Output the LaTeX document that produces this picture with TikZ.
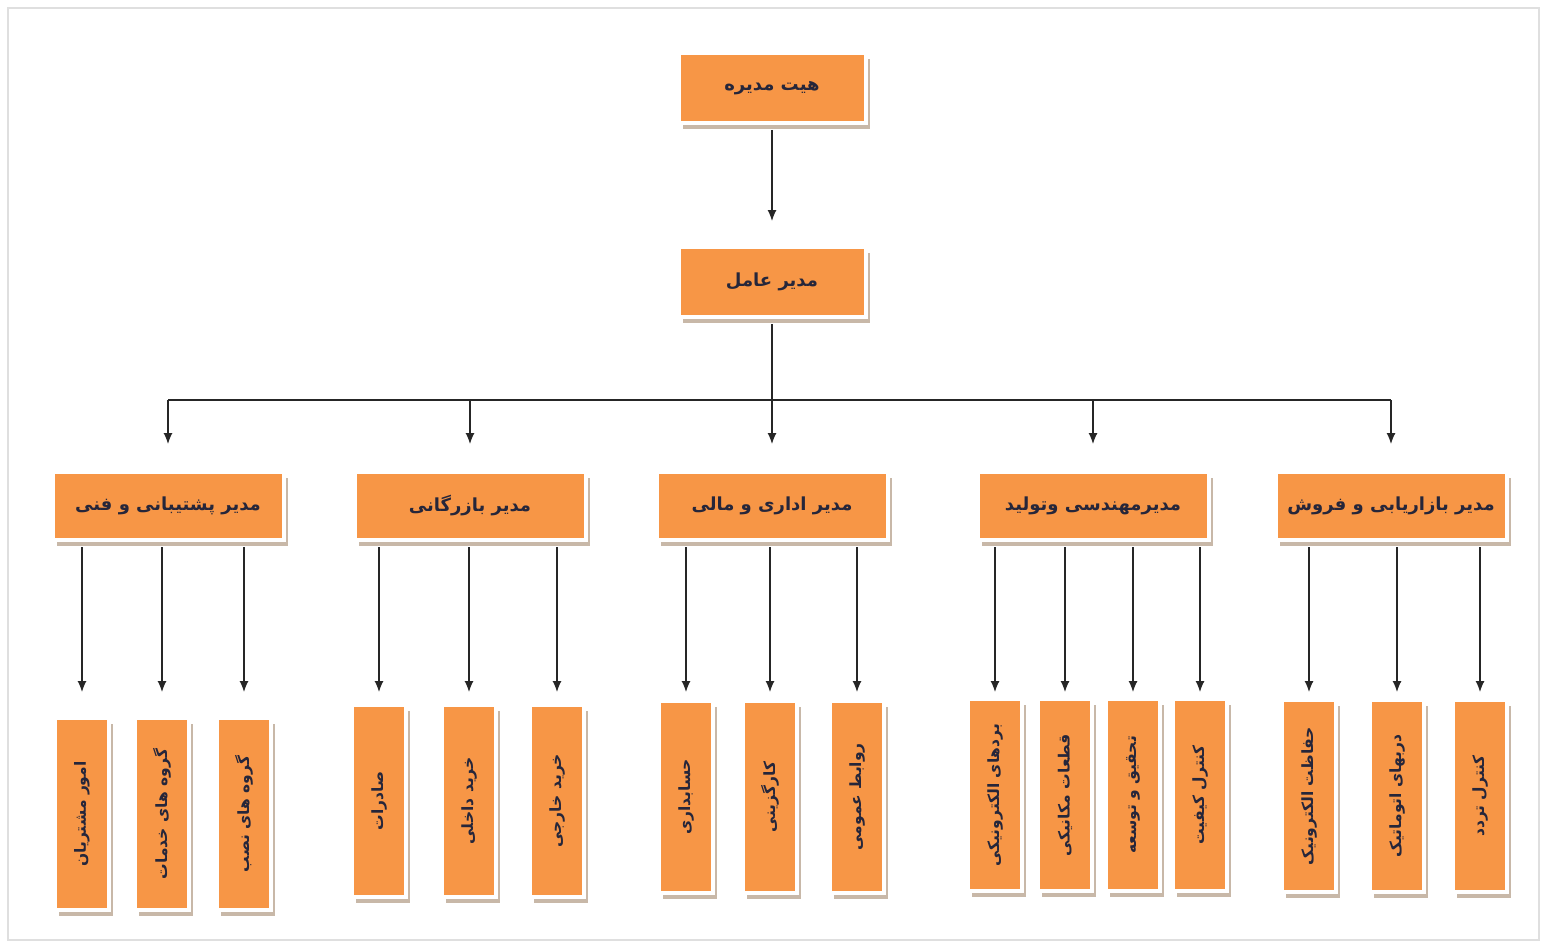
\documentclass[tikz,border=0pt]{standalone}
\usepackage{fontspec}
\usepackage{graphicx}
\usetikzlibrary{shadows,arrows.meta}
\TeXXeTstate=1
\newfontfamily\arabicfont[Script=Arabic]{DejaVu Sans}
\definecolor{boxorange}{RGB}{247,150,70}
\definecolor{shadowtan}{RGB}{200,184,168}
\definecolor{inktext}{RGB}{38,38,58}
\newcommand{\fa}[1]{\arabicfont\bfseries\beginR #1\endR}
\newcommand{\vfa}[1]{\rotatebox{90}{\fontsize{15.5}{18}\selectfont\fa{#1}}}

\tikzset{
  box/.style={fill=boxorange, draw=white, line width=4pt, text=inktext, inner sep=0pt,
    drop shadow={shadow xshift=4pt, shadow yshift=-6pt, fill=shadowtan, opacity=1}},
  head/.style={box, minimum width=187pt, minimum height=70pt, font=\fontsize{18}{21}\selectfont},
  mgr/.style={box, minimum width=231pt, minimum height=68pt, font=\fontsize{18}{21}\selectfont},
  leaf/.style={box, minimum width=54pt, minimum height=192pt},
  wire/.style={line width=1.2pt, draw=black!85},
  arr/.style={wire, -{Latex[length=11pt,width=9pt]}}
}

\begin{document}
\begin{tikzpicture}[x=1pt, y=-1pt]
  \useasboundingbox (0,0) rectangle (1545,947);
  \draw[gray!25, line width=1.2pt] (8,8) rectangle (1539,940);

  % board and ceo
  \node[head] (board) at (772,88) {\fa{هیت مدیره}};
  \node[head] (ceo) at (772,282) {\fa{مدیر عامل}};
  \draw[arr, shorten <=5pt, shorten >=24pt] (board.south) -- (ceo.north);

  % managers
  \node[mgr] (sup) at (168,506) {\fa{مدیر پشتیبانی و فنی}};
  \node[mgr] (com) at (470,506) {\fa{مدیر بازرگانی}};
  \node[mgr] (adm) at (772,506) {\fa{مدیر اداری و مالی}};
  \node[mgr] (eng) at (1093,506) {\fa{مدیرمهندسی وتولید}};
  \node[mgr] (mkt) at (1391,506) {\fa{مدیر بازاریابی و فروش}};

  \coordinate (bus) at (772,400);
  \coordinate (tips) at (772,692);
  \draw[arr, shorten <=5pt, shorten >=26pt] (ceo.south) -- (adm.north);
  \draw[wire] (sup.north |- bus) -- (mkt.north |- bus);
  \foreach \m in {sup,com,eng,mkt}
    \draw[arr, shorten >=26pt] (\m.north |- bus) -- (\m.north);

  % support
  \foreach \n/\x/\t in {s1/82/امور مشتریان, s2/162/گروه های خدمات, s3/244/گروه های نصب}{
    \node[leaf] (\n) at (\x,814) {\vfa{\t}};
    \draw[arr, shorten <=5pt] (\n.north |- sup.south) -- (\n.north |- tips);
  }
  % commerce
  \foreach \n/\x/\t in {c1/379/صادرات, c2/469/خرید داخلی, c3/557/خرید خارجی}{
    \node[leaf] (\n) at (\x,801) {\vfa{\t}};
    \draw[arr, shorten <=5pt] (\n.north |- com.south) -- (\n.north |- tips);
  }
  % admin
  \foreach \n/\x/\t in {a1/686/حسابداری, a2/770/کارگزینی, a3/857/روابط عمومی}{
    \node[leaf] (\n) at (\x,797) {\vfa{\t}};
    \draw[arr, shorten <=5pt] (\n.north |- adm.south) -- (\n.north |- tips);
  }
  % engineering
  \foreach \n/\x/\t in {e1/995/بردهای الکترونیکی, e2/1065/قطعات مکانیکی, e3/1133/تحقیق و توسعه, e4/1200/کنترل کیفیت}{
    \node[leaf] (\n) at (\x,795) {\vfa{\t}};
    \draw[arr, shorten <=5pt] (\n.north |- eng.south) -- (\n.north |- tips);
  }
  % marketing
  \foreach \n/\x/\t in {k1/1309/حفاظت الکترونیک, k2/1397/دربهای اتوماتیک, k3/1480/کنترل تردد}{
    \node[leaf] (\n) at (\x,796) {\vfa{\t}};
    \draw[arr, shorten <=5pt] (\n.north |- mkt.south) -- (\n.north |- tips);
  }
\end{tikzpicture}
\end{document}
